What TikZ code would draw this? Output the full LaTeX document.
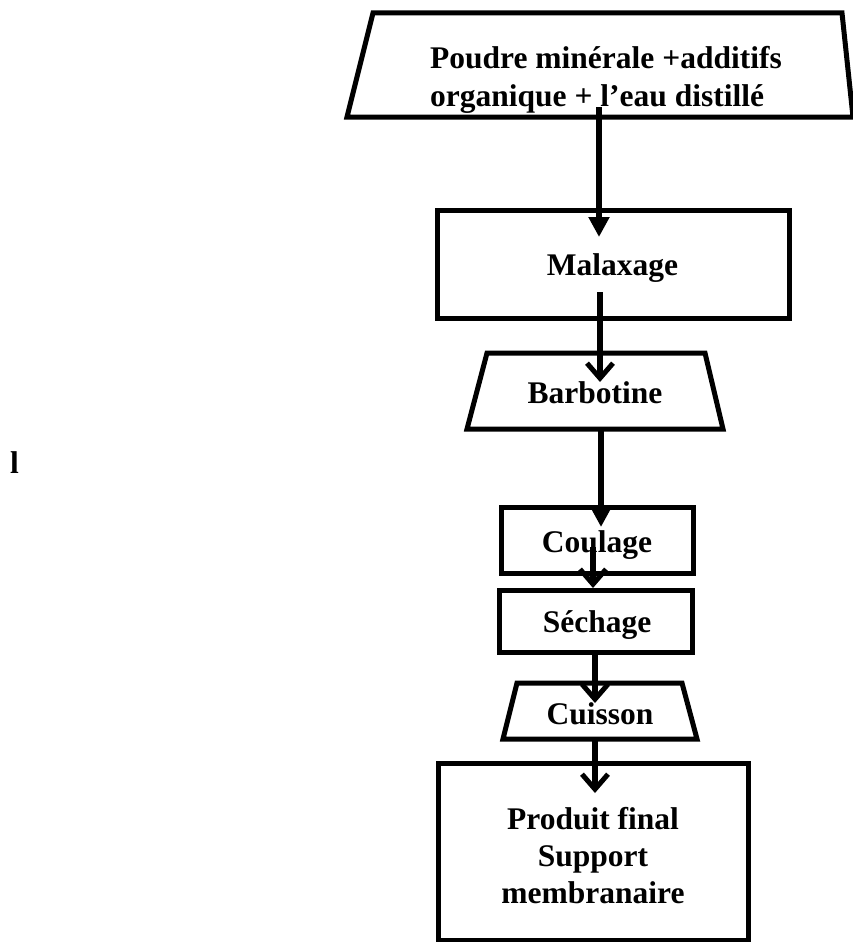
\documentclass[tikz,border=0pt]{standalone}
\usepackage{fontspec}
\setmainfont{Liberation Serif}
\usetikzlibrary{arrows.meta}
\begin{document}
\begin{tikzpicture}[x=1pt,y=-1pt,
  box/.style={draw, line width=5pt, outer sep=0pt, inner sep=0pt},
  trapbase/.style={draw=none, outer sep=0pt, inner sep=0pt},
  trapline/.style={line width=5pt, line join=miter},
  lbl/.style={font=\fontsize{31.5}{37}\selectfont\bfseries, inner sep=0pt, anchor=base},
  flow/.style={line width=5.5pt},
  tri/.style={-{Triangle[width=20pt,length=20pt]}},
  barb/.style={-{Straight Barb[width=26pt,length=15pt,line width=5pt]}},
]
\useasboundingbox (0,0) rectangle (853,942);

% boxes
\node[trapbase, minimum width=506pt, minimum height=104pt] (top) at (600,65) {};
\draw[trapline] ([xshift=26pt]top.north west) -- ([xshift=-11pt]top.north east) -- (top.south east) -- (top.south west) -- cycle;

\node[box, minimum width=352pt, minimum height=108pt] (mal) at (613,264) {};

\node[trapbase, minimum width=256pt, minimum height=76pt] (barb) at (595,391) {};
\draw[trapline] ([xshift=20pt]barb.north west) -- ([xshift=-18pt]barb.north east) -- (barb.south east) -- (barb.south west) -- cycle;

\node[box, minimum width=192pt, minimum height=66pt] (coul) at (597,540) {};
\node[box, minimum width=193pt, minimum height=62pt] (sech) at (595.5,621) {};

\node[trapbase, minimum width=194pt, minimum height=56pt] (cuis) at (600,711) {};
\draw[trapline] ([xshift=14pt]cuis.north west) -- ([xshift=-15pt]cuis.north east) -- (cuis.south east) -- (cuis.south west) -- cycle;

\node[box, minimum width=310pt, minimum height=177pt] (prod) at (593,851.5) {};

% texts
\node[lbl, anchor=base west, align=left] (ttop) at (430,106) {Poudre minérale +additifs\\organique + l’eau distillé};
\node[lbl] (tmal) at (612.5,275) {Malaxage};
\node[lbl] (tbarb) at (595,403) {Barbotine};
\node[lbl] (tcoul) at (597,552) {Coulage};
\node[lbl] (tsech) at (597,632) {Séchage};
\node[lbl] (tcuis) at (600,724) {Cuisson};
\node[lbl, align=center] (tprod) at (593,903) {Produit final\\Support\\membranaire};
\node[lbl, anchor=base west] (tl) at (10,473) {l};

% connectors
\draw[flow,tri] ([xshift=-1pt,yshift=10pt]top.south) -- ([xshift=-14pt,yshift=-27pt]mal.north);
\draw[flow,barb] ([xshift=-13pt,yshift=26pt]mal.south) -- ([xshift=5pt,yshift=-29pt]barb.north);
\draw[flow,tri] ([xshift=6pt]barb.south) -- ([xshift=4pt,yshift=-20pt]coul.north);
\draw[flow,barb] ([xshift=-4pt,yshift=26pt]coul.south) -- ([xshift=-2.5pt,yshift=2pt]sech.north);
\draw[flow,barb] ([xshift=-0.5pt]sech.south) -- ([xshift=-5pt,yshift=-20pt]cuis.north);
\draw[flow,barb] ([xshift=-5pt]cuis.south) -- ([xshift=2pt,yshift=-30pt]prod.north);
\end{tikzpicture}
\end{document}
